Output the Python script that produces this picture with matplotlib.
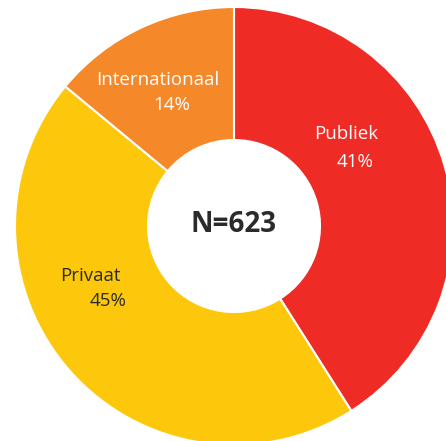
import matplotlib
matplotlib.use("Agg")
import matplotlib.pyplot as plt

categories = ["Publiek", "Privaat", "Internationaal"]
values = [41, 45, 14]
colors = ["#EF2B25", "#FDC80B", "#F5892A"]
text_colors = ["white", "#2b2b2b", "white"]
total_label = "N=623"

W, H = 446, 441
fig = plt.figure(figsize=(W / 100, H / 100), dpi=100)
ax = fig.add_axes([0, 0, 1, 1])
ax.set_xlim(0, W)
ax.set_ylim(0, H)
ax.set_aspect("equal")
ax.axis("off")

cx, cy, R = 234, H - 226, 219
ax.pie(values, colors=colors, startangle=90, counterclock=False,
       center=(cx, cy), radius=R,
       wedgeprops=dict(width=R - 86, edgecolor="white", linewidth=1.5))
ax.set_xlim(0, W)
ax.set_ylim(0, H)

font = "Open Sans"
# label positions (pixel coords): name line and percent line
pos = {"Publiek": ((346, 134), (355, 162)),
       "Privaat": ((90, 276), (108, 301)),
       "Internationaal": ((158, 80), (172, 105))}
for cat, v, tc in zip(categories, values, text_colors):
    (x1, y1), (x2, y2) = pos[cat]
    ax.text(x1, H - y1, cat, ha="center", va="center", color=tc,
            fontsize=13.5, family=font)
    ax.text(x2, H - y2, f"{v}%", ha="center", va="center", color=tc,
            fontsize=13.5, family=font)

ax.text(cx, H - 224, total_label, ha="center", va="center",
        color="#2b2b2b", fontsize=20, fontweight="bold", family=font)

fig.savefig("out.png", dpi=100)
